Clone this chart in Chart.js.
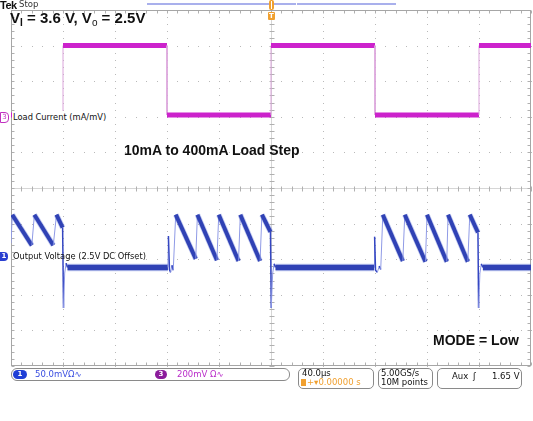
<!DOCTYPE html>
<html><head><meta charset="utf-8">
<script src="https://cdn.jsdelivr.net/npm/chart.js@4.4.1/dist/chart.umd.min.js"></script>
<style>
body{margin:0;background:#fff;}
#wrap{position:relative;width:533px;height:421px;overflow:hidden;background:#fff;}
#c{position:absolute;left:0;top:0;}
.t{position:absolute;white-space:nowrap;line-height:1;}
.big{font-family:"Liberation Sans",Arial,sans-serif;font-weight:bold;color:#111;}
.small{font-family:"DejaVu Sans",sans-serif;font-size:8.3px;color:#111;}
.bar{font-family:"DejaVu Sans",sans-serif;font-size:8.5px;}
.box{position:absolute;border:1px solid #8a8a8a;border-radius:5px;box-sizing:border-box;}
sub{font-size:10px;vertical-align:-3px;line-height:0;}
</style></head><body>
<div id="wrap">
<canvas id="c" width="533" height="421"></canvas>

<div class="t big" style="left:0px;top:0px;font-size:11px;letter-spacing:-0.5px;">Tek</div>
<div class="t" style="left:19px;top:0px;font-family:'DejaVu Sans',sans-serif;font-size:8.5px;color:#333;">Stop</div>
<div style="position:absolute;left:147px;top:3px;width:149px;height:2px;background:#a9b0ec;"></div>
<div style="position:absolute;left:297px;top:3px;width:99px;height:2px;background:#a9b0ec;"></div>
<div style="position:absolute;left:269px;top:0px;width:5px;height:10px;background:#f0a030;border-radius:2px;"></div>
<div style="position:absolute;left:271px;top:1px;width:1px;height:8px;background:#fff;"></div>
<div class="t" style="left:268px;top:12px;width:7px;height:8px;background:#f0a030;border-radius:1px;color:#fff;font:bold 7px 'DejaVu Sans';text-align:center;line-height:8px;">T</div>

<div class="t big" style="left:10px;top:10px;font-size:15px;">V<sub>I</sub> = 3.6 V, V<sub style="font-weight:normal">o</sub> = 2.5V</div>
<div class="t big" style="left:124px;top:143px;font-size:14px;">10mA to 400mA Load Step</div>
<div class="t big" style="left:433px;top:333px;font-size:14px;">MODE = Low</div>

<div class="t" style="left:0px;top:112px;width:7px;height:9px;border:1px solid #c030c0;border-radius:0 4px 4px 0;color:#c030c0;font:7px 'DejaVu Sans';text-align:center;line-height:9px;background:#fff;">3</div>
<div class="t small" style="left:12px;top:111px;padding:2px 1px;background:#fff;">Load Current (mA/mV)</div>
<div class="t" style="left:0px;top:252px;width:8px;height:9px;background:#2a3fd0;border-radius:0 4px 4px 0;color:#fff;font:bold 7px 'DejaVu Sans';text-align:center;line-height:9px;">1</div>
<div class="t small" style="left:13px;top:252px;">Output Voltage (2.5V DC Offset)</div>

<div class="box" style="left:11px;top:368px;width:279px;height:13px;border-radius:6px;"></div>
<div class="t" style="left:13px;top:370px;width:14px;height:9px;background:#1f3fd6;border-radius:5px;color:#fff;font:bold 7px 'DejaVu Sans';text-align:center;line-height:9px;">1</div>
<div class="t bar" style="left:35px;top:370px;color:#3a4ee0;">50.0mVΩ∿</div>
<div class="t" style="left:155px;top:370px;width:12px;height:9px;background:#8c1c9c;border-radius:5px;color:#fff;font:bold 7px 'DejaVu Sans';text-align:center;line-height:9px;">3</div>
<div class="t bar" style="left:177px;top:370px;color:#b92cc9;">200mV Ω∿</div>

<div class="box" style="left:298px;top:368px;width:76px;height:21px;"></div>
<div class="t bar" style="left:302px;top:369px;color:#111;">40.0µs</div>
<div class="t" style="left:301px;top:379px;width:5px;height:7px;background:#f0a030;"></div>
<div class="t bar" style="left:307px;top:378px;color:#f0a030;">+▾0.00000 s</div>

<div class="box" style="left:378px;top:368px;width:55px;height:21px;"></div>
<div class="t bar" style="left:381px;top:369px;color:#111;">5.00GS/s</div>
<div class="t bar" style="left:381px;top:378px;color:#111;">10M points</div>

<div class="box" style="left:437px;top:368px;width:85px;height:21px;"></div>
<div class="t bar" style="left:452px;top:372px;color:#111;">Aux</div>
<div class="t bar" style="left:473px;top:372px;color:#111;">ʃ</div>
<div class="t bar" style="left:492px;top:372px;color:#111;">1.65 V</div>
</div>

<script>
// ---- Data read from the scope capture ----
// Channel 3: load current (mA), 200 mA/div, reference marker at +2 div
const loadTimeUs    = [-200, -160, -160, -80, -80, 0, 0, 80, 80, 160, 160, 200];
const loadCurrentmA = [10, 10, 400, 400, 10, 10, 400, 400, 10, 10, 400, 400];

// Channel 1: output voltage ripple (mV, relative to 2.5 V), 50 mV/div, reference at -1.95 div
const voutTimeUs = [
  -200, -199, -184, -182, -167.5, -165, -160.3, -159.6, -158.7, -157.6, -156.5,
  -79.3, -78.9, -78.1, -77.2, -76.2, -75.2, -73.3,
  -57.9, -56.6, -41.6, -40.2, -25, -23.6, -8.4, -7, -0.4, 0.2, 1.3, 2.4, 3.5,
  79.3, 79.7, 80.4, 81.8, 83.3, 84.4, 86,
  101.4, 102.9, 118.8, 120, 135.2, 136.2, 151.4, 152.9, 159.2, 159.7, 160.7, 161.8, 163,
  200
];
const voutmV = [
  20, 60, 17, 60, 17, 60, 42, -71, -22, -8, -14,
  -14, 30, -17, -21, -11, -18, 60,
  -2, 60, -4, 60, -5, 60, -5, 60, 36, -71, -22, -9, -14,
  -14, 29, -18, -21, -12, -17, 60,
  -5, 60, -6, 60, -6, 60, -6, 60, 35, -71, -22, -9, -14,
  -14
];

const ch3mAPerDiv = 200, ch3RefDiv = 2;
const ch1mVPerDiv = 50, ch1RefDiv = -1.95;
const timeMin = -200, timeMax = 200, timePerDiv = 40;
const divMin = -5, divMax = 5;

const loadPts = loadTimeUs.map((t, i) => ({x: t, y: ch3RefDiv + loadCurrentmA[i] / ch3mAPerDiv}));
const voutPts = voutTimeUs.map((t, i) => ({x: t, y: ch1RefDiv + voutmV[i] / ch1mVPerDiv}));

function steep(ctx){ return Math.abs(ctx.p1.parsed.x - ctx.p0.parsed.x) < 3; }
function rising(ctx){ return ctx.p1.parsed.y > ctx.p0.parsed.y; }
function flat(ctx){ return Math.abs(ctx.p1.parsed.y - ctx.p0.parsed.y) < 0.15; }

const graticule = {
  id: 'graticule',
  beforeDatasetsDraw(chart){
    const {ctx, chartArea: a, scales: {x, y}} = chart;
    ctx.save();
    ctx.fillStyle = '#b9b9b9';
    const nDivX = (timeMax - timeMin) / timePerDiv;
    const nDivY = divMax - divMin;
    for (let i = 1; i < nDivX; i++){
      const t = timeMin + i * timePerDiv;
      if (t === 0) continue;
      const px = Math.round(x.getPixelForValue(t));
      for (let j = 0; j <= nDivY * 5; j++){
        const py = Math.round(y.getPixelForValue(divMin + j / 5));
        ctx.fillRect(px, py, 1, 1);
      }
    }
    for (let i = 1; i < nDivY; i++){
      const v = divMin + i;
      if (v === 0) continue;
      const py = Math.round(y.getPixelForValue(v));
      for (let j = 0; j <= nDivX * 5; j++){
        const px = Math.round(x.getPixelForValue(timeMin + j * timePerDiv / 5));
        ctx.fillRect(px, py, 1, 1);
      }
    }
    ctx.lineWidth = 1;
    const cx = Math.round(x.getPixelForValue(0)) + 0.5;
    const cy = Math.round(y.getPixelForValue(0)) + 0.5;
    const L = Math.round(a.left) + 0.5, R = Math.round(a.right) - 0.5;
    const T = Math.round(a.top) + 0.5, B = Math.round(a.bottom) - 0.5;
    ctx.strokeStyle = '#d6d6d6';
    ctx.beginPath();
    ctx.moveTo(L, cy); ctx.lineTo(R, cy);
    ctx.moveTo(cx, T); ctx.lineTo(cx, B);
    ctx.stroke();
    ctx.strokeStyle = '#b0b0b0';
    ctx.beginPath();
    for (let j = 0; j <= nDivX * 5; j++){
      const px = Math.round(x.getPixelForValue(timeMin + j * timePerDiv / 5)) + 0.5;
      ctx.moveTo(px, cy - 2); ctx.lineTo(px, cy + 3);
      ctx.moveTo(px, T); ctx.lineTo(px, T + 3);
      ctx.moveTo(px, B); ctx.lineTo(px, B - 3);
    }
    for (let j = 0; j <= nDivY * 5; j++){
      const py = Math.round(y.getPixelForValue(divMin + j / 5)) + 0.5;
      ctx.moveTo(cx - 2, py); ctx.lineTo(cx + 3, py);
      ctx.moveTo(L, py); ctx.lineTo(L + 3, py);
      ctx.moveTo(R, py); ctx.lineTo(R - 3, py);
    }
    ctx.stroke();
    ctx.strokeStyle = '#a6a6a6';
    ctx.strokeRect(L, T, R - L, B - T);
    ctx.restore();
  }
};

new Chart(document.getElementById('c'), {
  type: 'line',
  data: {
    datasets: [
      { data: voutPts, borderColor: 'rgba(90,110,215,0.35)', pointRadius: 0, tension: 0,
        segment: {
          borderWidth: c => steep(c) ? 0 : (flat(c) ? 7.5 : 5.5),
          borderColor: c => steep(c) ? 'rgba(0,0,0,0)' : 'rgba(90,110,215,0.35)'
        } },
      { data: voutPts, borderColor: '#1b2ca3', pointRadius: 0, tension: 0,
        segment: {
          borderWidth: c => steep(c) ? (rising(c) ? 1 : 1.5) : (flat(c) ? 5.5 : 4),
          borderColor: c => steep(c) ? (rising(c) ? '#8f9ae6' : '#3446c2') : '#1b2ca3'
        } },
      { data: loadPts, borderColor: '#cc22cc', pointRadius: 0, tension: 0,
        segment: {
          borderWidth: c => steep(c) ? 1 : 5,
          borderColor: c => steep(c) ? '#dba4db' : '#cc22cc'
        } },
      { data: loadPts, borderColor: '#7c0c7c', pointRadius: 0, tension: 0,
        segment: {
          borderWidth: c => steep(c) ? 0 : 1.5,
          borderColor: c => steep(c) ? 'rgba(0,0,0,0)' : '#7c0c7c'
        } }
    ]
  },
  options: {
    responsive: false,
    animation: false,
    devicePixelRatio: 1,
    layout: { padding: { left: 11, right: 2, top: 10, bottom: 55 } },
    plugins: { legend: { display: false }, tooltip: { enabled: false } },
    scales: {
      x: { type: 'linear', min: timeMin, max: timeMax, display: false },
      y: { type: 'linear', min: divMin, max: divMax, display: false }
    }
  },
  plugins: [graticule]
});
</script>
</body></html>
